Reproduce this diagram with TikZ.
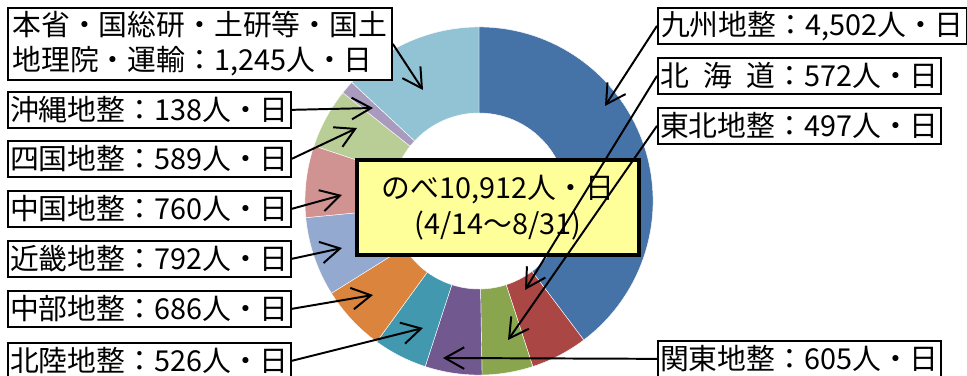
\documentclass[tikz,border=0pt]{standalone}
\usepackage{fontspec}
\setmainfont{Noto Sans CJK JP}
\usetikzlibrary{arrows.meta, calc}

\definecolor{kyushu}{HTML}{4572A7}
\definecolor{hokkaido}{HTML}{AA4643}
\definecolor{tohoku}{HTML}{89A54E}
\definecolor{kanto}{HTML}{71588F}
\definecolor{hokuriku}{HTML}{4198AF}
\definecolor{chubu}{HTML}{DB843D}
\definecolor{kinki}{HTML}{93A9CF}
\definecolor{chugoku}{HTML}{D19392}
\definecolor{shikoku}{HTML}{B9CD96}
\definecolor{okinawa}{HTML}{A99BBD}
\definecolor{honsho}{HTML}{92C3D5}
\definecolor{totalbg}{HTML}{FFFF99}

\tikzset{
  lbl/.style={draw, line width=1.2pt, fill=white, inner sep=1pt, anchor=north west,
    minimum width=7.075cm, minimum height=0.9cm, font=\fontsize{20.5}{25}\selectfont},
  lblarrow/.style={line width=1.4pt, -{Straight Barb[length=0.48cm, width=0.54cm]}}
}

\begin{document}
\begin{tikzpicture}[x=0.025cm, y=0.025cm]

    \useasboundingbox (0,0) rectangle (967,375);

    % donut
    \coordinate (ctr) at (479,174);
    \foreach \e/\col [remember=\e as \s (initially 90)] in {-53/kyushu, -72/hokkaido, -89/tohoku, -108/kanto, -126/hokuriku, -148/chubu, -174.5/kinki, -198.5/chugoku, -218.5/shikoku, -223/okinawa, -270/honsho}
    \filldraw[fill=\col, draw=white, line width=0.3pt] ($(ctr)+(\s:4.35cm)$) arc[start angle=\s, end angle=\e, radius=4.35cm] -- ($(ctr)+(\e:2.2cm)$) arc[start angle=\e, end angle=\s, radius=2.2cm] -- cycle;

    \node (total) [draw, line width=2.5pt, fill=totalbg, minimum width=7.05cm, minimum height=2.375cm, align=center, font=\fontsize{20.5}{25.6}\selectfont] at (498,167.5) {のべ10,912人・日\\(4/14～8/31)};

    % labels, left
    \node (honsho) [lbl, minimum width=9.6cm, minimum height=1.8cm, align=left] at (7,368) {本省・国総研・土研等・国土\\地理院・運輸：1,245人・日};
    \node (okinawa) [lbl] at (7,284) {沖縄地整：138人・日};
    \node (shikoku) [lbl] at (7,235) {四国地整：589人・日};
    \node (chugoku) [lbl] at (7,185) {中国地整：760人・日};
    \node (kinki) [lbl] at (7,135) {近畿地整：792人・日};
    \node (chubu) [lbl] at (7,85) {中部地整：686人・日};
    \node (hokuriku) [lbl] at (7,33) {北陸地整：526人・日};

    % labels, right
    \node (kyushu) [lbl, minimum width=7.725cm] at (657,368) {九州地整：4,502人・日};
    \node (hokkaido) [lbl] at (657,318) {北\hspace{0.5em}海\hspace{0.5em}道：572人・日};
    \node (tohoku) [lbl] at (657,268) {東北地整：497人・日};
    \node (kanto) [lbl] at (657,35) {関東地整：605人・日};

    % arrow tips
    \coordinate (honsho-tip) at (423,285);
    \coordinate (okinawa-tip) at (373,267);
    \coordinate (shikoku-tip) at (357,247);
    \coordinate (chugoku-tip) at (342,180);
    \coordinate (kinki-tip) at (342,127);
    \coordinate (chubu-tip) at (373,80);
    \coordinate (hokuriku-tip) at (423,47);
    \coordinate (kanto-tip) at (443,17);
    \coordinate (tohoku-tip) at (508,35);
    \coordinate (hokkaido-tip) at (525,85);
    \coordinate (kyushu-tip) at (605,269);

    \foreach \n in {honsho, okinawa, shikoku, chugoku, kinki, chubu, hokuriku}
    \draw[lblarrow] (\n.east) -- (\n-tip);
    \foreach \n in {kyushu, hokkaido, tohoku, kanto}
    \draw[lblarrow] (\n.west) -- (\n-tip);

\end{tikzpicture}
\end{document}
